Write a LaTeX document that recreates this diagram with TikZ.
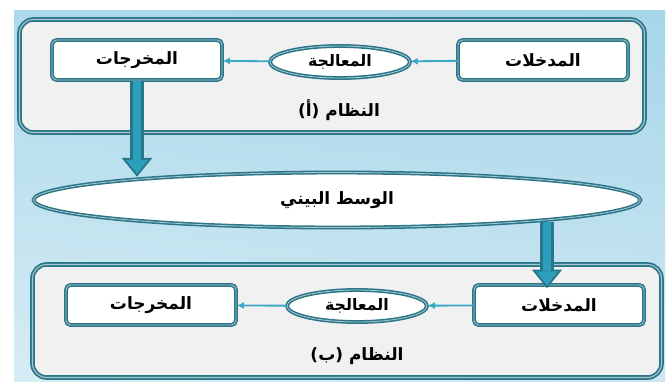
\documentclass[tikz,border=0pt]{standalone}
\usepackage{fontspec}
\newfontfamily\arabicfont[Script=Arabic]{DejaVu Sans}
\TeXXeTstate=1
\usetikzlibrary{shapes.geometric,shadings,arrows.meta,calc,positioning}

\definecolor{edgeteal}{HTML}{2A7688}
\definecolor{rimgray}{HTML}{A9C7D0}
\definecolor{panelgray}{HTML}{F1F1F1}
\definecolor{linkblue}{HTML}{3CA8C8}
\definecolor{arrowfill}{HTML}{2E9EBD}
\definecolor{arrowedge}{HTML}{27778A}
\definecolor{skyA}{HTML}{ACD9EA}
\definecolor{skyB}{HTML}{A6D6E9}
\definecolor{skyC}{HTML}{D6ECF5}
\definecolor{skyD}{HTML}{CDE7F2}

\newcommand{\artxt}[1]{\arabicfont\beginR #1\endR}

\begin{document}
\begin{tikzpicture}[x=0.03cm, y=-0.03cm,
   sysbox/.style={draw=edgeteal, double=rimgray, double distance=0.9pt, line width=1.5pt,
                  fill=panelgray, rounded corners=12pt},
   itembox/.style={draw=edgeteal, double=rimgray, double distance=0.7pt, line width=1.3pt,
                   fill=white, rounded corners=4pt, minimum width=5.1cm, minimum height=1.2cm,
                   font=\fontsize{14.5}{16}\selectfont\bfseries},
   procell/.style={ellipse, draw=edgeteal, double=rimgray, double distance=0.7pt, line width=1.3pt,
                   fill=white, minimum width=4.2cm, minimum height=0.96cm, inner sep=0pt,
                   font=\fontsize{13.5}{15}\selectfont\bfseries},
   midell/.style={ellipse, draw=edgeteal, double=rimgray, double distance=0.7pt, line width=1.3pt,
                  fill=white, minimum width=18.2cm, minimum height=1.65cm, inner sep=0pt,
                  font=\fontsize{14.5}{16}\selectfont\bfseries},
   syslabel/.style={font=\fontsize{14.5}{16}\selectfont\bfseries},
   link/.style={draw=linkblue, line width=1.6pt, -{Latex[length=6pt,width=6pt]}},
   bigedge/.style={draw=arrowedge, line width=12pt,
                   -{Triangle[length=16pt,width=26pt,line width=0pt]}},
   bigcore/.style={draw=arrowfill, line width=7.5pt, shorten >=2.5pt,
                   -{Triangle[length=12pt,width=19pt,line width=0pt]}}]

\useasboundingbox (0,0) rectangle (672,381);
\shade[upper left=skyA, upper right=skyB, lower left=skyC, lower right=skyD]
   (14,10) rectangle (665,381);

% system (a)
\node[sysbox, minimum width=18.75cm, minimum height=3.39cm] (sysA) at (332,76) {};
\node[itembox] (outA) at (137,60) {\artxt{المخرجات}};
\node[procell] (procA) at (340,62) {\artxt{المعالجة}};
\node[itembox] (inA) at (543,60) {\artxt{المدخلات}};
\node[syslabel] (nameA) at (339,110) {\artxt{النظام (أ)}};

% system (b)
\node[sysbox, minimum width=18.87cm, minimum height=3.39cm] (sysB) at (347,321) {};
\node[itembox] (outB) at (151,305) {\artxt{المخرجات}};
\node[procell] (procB) at (357,306) {\artxt{المعالجة}};
\node[itembox] (inB) at (559,305) {\artxt{المدخلات}};
\node[syslabel] (nameB) at (357,356) {\artxt{النظام (ب)}};

% the medium between them
\node[midell] (midE) at (337,200) {\artxt{الوسط البيني}};
\coordinate (dropB) at (547,222);

\draw[link] (inA) -- (procA);
\draw[link] (procA) -- (outA);
\draw[link] (inB) -- (procB);
\draw[link] (procB) -- (outB);

\draw[bigedge] (outA.south) -- ($(outA.south |- midE.north)+(0,5)$);
\draw[bigcore] (outA.south) -- ($(outA.south |- midE.north)+(0,5)$);
\draw[bigedge] (dropB) -- ($(dropB |- inB.north)+(0,4)$);
\draw[bigcore] (dropB) -- ($(dropB |- inB.north)+(0,4)$);

\end{tikzpicture}
\end{document}
